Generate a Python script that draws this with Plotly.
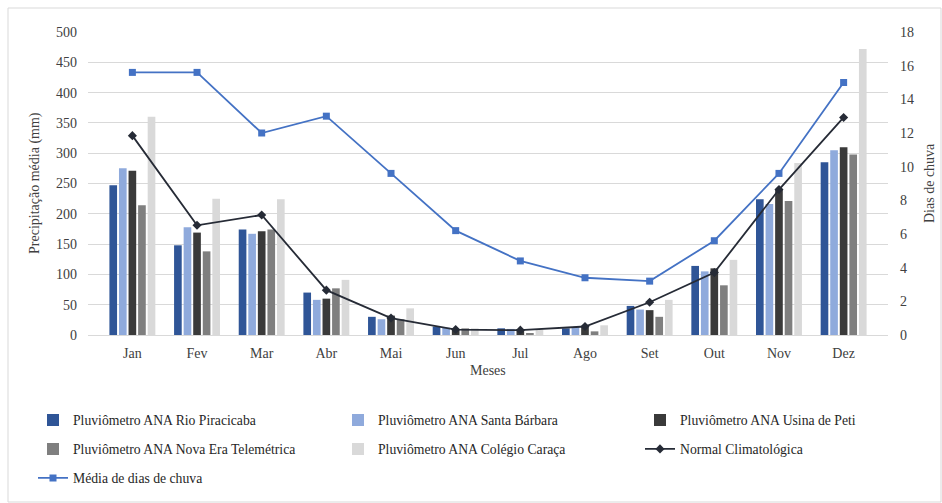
import plotly.graph_objects as go

meses = ["Jan", "Fev", "Mar", "Abr", "Mai", "Jun", "Jul", "Ago", "Set", "Out", "Nov", "Dez"]

rio_piracicaba = [247, 148, 174, 70, 30, 14, 11, 11, 48, 114, 224, 285]
santa_barbara = [275, 178, 167, 58, 26, 12, 10, 13, 42, 105, 216, 305]
usina_peti = [271, 169, 171, 60, 32, 10, 10, 13, 41, 110, 241, 310]
nova_era = [214, 138, 174, 77, 26, 11, 3, 6, 30, 82, 221, 298]
colegio_caraca = [360, 225, 224, 91, 44, 11, 9, 16, 58, 124, 284, 472]

normal_climatologica = [329, 181, 198, 74, 28, 9, 8, 14, 54, 103, 240, 359]
media_dias_chuva = [15.6, 15.6, 12.0, 13.0, 9.6, 6.2, 4.4, 3.4, 3.2, 5.6, 9.6, 15.0]

W, H = 942, 503
ML, MR, MT, MB = 88, 54, 32, 168
PW, PH = W - ML - MR, H - MT - MB

FONT = "Liberation Serif"
TXT = "#404040"
FS = 14
LEG_FS = 13.7


def px_x(x):
    return (x - ML) / PW


def px_y(y):
    return (H - MB - y) / PH


fig = go.Figure()

# (name, values, colour, legend slot (text x, text y))
bar_series = [
    ("Pluviômetro ANA Rio Piracicaba", rio_piracicaba, "#2F5597", (73, 420)),
    ("Pluviômetro ANA Santa Bárbara", santa_barbara, "#8FAADC", (378, 420)),
    ("Pluviômetro ANA Usina de Peti", usina_peti, "#3A3A3A", (680, 420)),
    ("Pluviômetro ANA Nova Era Telemétrica", nova_era, "#7F7F7F", (73, 449)),
    ("Pluviômetro ANA Colégio Caraça", colegio_caraca, "#D9D9D9", (378, 449)),
]
line_series = [
    ("Normal Climatológica", normal_climatologica, "#262B36", "diamond", "y", (680, 449)),
    ("Média de dias de chuva", media_dias_chuva, "#4472C4", "square", "y2", (73, 478)),
]

legends = {}
k = 0


def legend_slot(pos):
    global k
    k += 1
    key = "legend" if k == 1 else f"legend{k}"
    legends[key] = dict(
        x=px_x(pos[0] - 40), y=px_y(pos[1]), xanchor="left", yanchor="middle",
        orientation="h", font=dict(family=FONT, size=LEG_FS, color="#262626"),
        bgcolor="rgba(0,0,0,0)", itemclick=False, itemdoubleclick=False,
    )
    return key


for name, vals, color, pos in bar_series:
    fig.add_trace(go.Bar(
        x=meses, y=vals, name=name, marker=dict(color=color, line=dict(width=0)),
        legend=legend_slot(pos), yaxis="y", showlegend=True,
    ))

for name, vals, color, sym, ax, pos in line_series:
    fig.add_trace(go.Scatter(
        x=meses, y=vals, name=name, mode="lines+markers",
        line=dict(color=color, width=1.8),
        marker=dict(symbol=sym, size=7, color=color),
        legend=legend_slot(pos), yaxis=ax, showlegend=True,
    ))

fig.update_layout(
    width=W, height=H, showlegend=True,
    margin=dict(l=ML, r=MR, t=MT, b=MB, autoexpand=False),
    paper_bgcolor="white", plot_bgcolor="white",
    font=dict(family=FONT, size=FS, color=TXT),
    barmode="group", bargap=0.26, bargroupgap=0.2,
    xaxis=dict(
        showgrid=False, showline=False, ticks="", automargin=False,
        ticklabelstandoff=8,
        tickfont=dict(family=FONT, size=FS, color=TXT),
    ),
    yaxis=dict(
        range=[0, 500], dtick=50, showgrid=True, gridcolor="#D9D9D9", gridwidth=1,
        zeroline=True, zerolinecolor="#D9D9D9", zerolinewidth=1,
        showline=False, ticks="", ticklabelstandoff=10, automargin=False,
        tickfont=dict(family=FONT, size=FS, color=TXT),
    ),
    yaxis2=dict(
        range=[0, 18], dtick=2, overlaying="y", side="right",
        showgrid=False, zeroline=False, showline=False, ticks="", ticklabelstandoff=11,
        automargin=False,
        tickfont=dict(family=FONT, size=FS, color=TXT),
    ),
    annotations=[
        dict(text="Precipitação média (mm)", x=px_x(35), y=px_y(183), xref="paper", yref="paper",
             textangle=-90, showarrow=False, xanchor="center", yanchor="middle",
             font=dict(family=FONT, size=FS, color=TXT)),
        dict(text="Dias de chuva", x=px_x(929), y=px_y(183), xref="paper", yref="paper",
             textangle=-90, showarrow=False, xanchor="center", yanchor="middle",
             font=dict(family=FONT, size=FS, color=TXT)),
        dict(text="Meses", x=px_x(488), y=px_y(370), xref="paper", yref="paper",
             showarrow=False, xanchor="center", yanchor="middle",
             font=dict(family=FONT, size=FS, color=TXT)),
    ],
    shapes=[dict(
        type="rect", xref="paper", yref="paper",
        x0=px_x(8), x1=px_x(941), y0=px_y(502), y1=px_y(8),
        line=dict(color="#D9D9D9", width=1), fillcolor="rgba(0,0,0,0)", layer="below",
    )],
    **legends,
)

fig.write_html("out.html")
